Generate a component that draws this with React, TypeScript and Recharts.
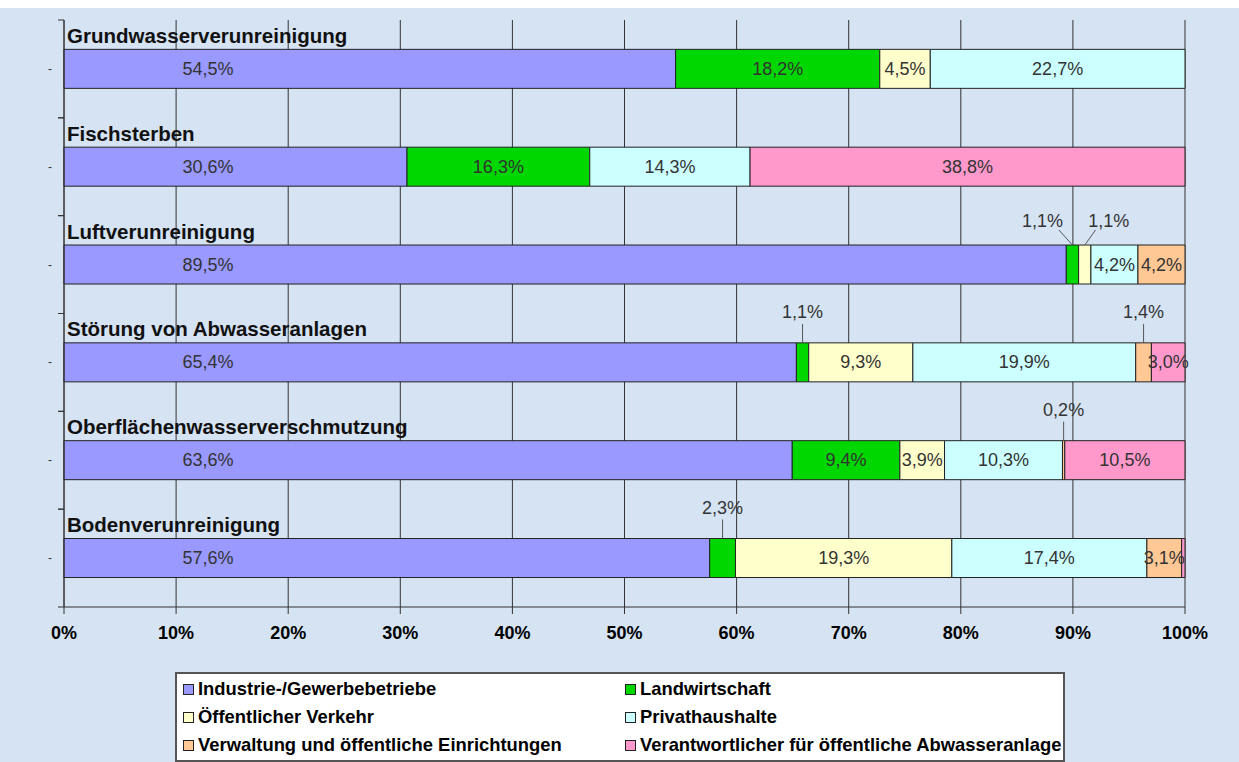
import { BarChart, Bar, XAxis, YAxis, CartesianGrid, LabelList } from 'recharts'

const CATEGORIES = [
  'Grundwasserverunreinigung',
  'Fischsterben',
  'Luftverunreinigung',
  'Störung von Abwasseranlagen',
  'Oberflächenwasserverschmutzung',
  'Bodenverunreinigung',
]

// shares in percent, one entry per category
const INDUSTRIE = [54.5, 30.6, 89.5, 65.4, 63.6, 57.6]
const LANDWIRTSCHAFT = [18.2, 16.3, 1.1, 1.1, 9.4, 2.3]
const VERKEHR = [4.5, 0, 1.1, 9.3, 3.9, 19.3]
const PRIVAT = [22.7, 14.3, 4.2, 19.9, 10.3, 17.4]
const VERWALTUNG = [0, 0, 4.2, 1.4, 0.2, 3.1]
const ABWASSER = [0, 38.8, 0, 3.0, 10.5, 0.3]

// [row, series] pairs whose value label is not printed
const HIDDEN_LABELS = [[5, 5]]

const X_TICKS = [0, 0.1, 0.2, 0.3, 0.4, 0.5, 0.6, 0.7, 0.8, 0.9, 1]

const SERIES = [
  { key: 'industrie', name: 'Industrie-/Gewerbebetriebe', color: '#9999ff', values: INDUSTRIE },
  { key: 'landwirtschaft', name: 'Landwirtschaft', color: '#00d600', values: LANDWIRTSCHAFT },
  { key: 'verkehr', name: 'Öffentlicher Verkehr', color: '#ffffcc', values: VERKEHR },
  { key: 'privat', name: 'Privathaushalte', color: '#ccffff', values: PRIVAT },
  { key: 'verwaltung', name: 'Verwaltung und öffentliche Einrichtungen', color: '#ffc894', values: VERWALTUNG },
  { key: 'abwasser', name: 'Verantwortlicher für öffentliche Abwasseranlage', color: '#ff99cc', values: ABWASSER },
]

const data = CATEGORIES.map((name, i) => {
  const row: Record<string, string | number> = { name }
  SERIES.forEach((s) => { row[s.key] = s.values[i] })
  return row
})

const FONT = 'Arial, "Liberation Sans", sans-serif'
const W = 1239
const H = 754
const MARGIN = { top: 12, right: 54, left: 0, bottom: 115 }
const X_AXIS_H = 40
const BAND = (H - MARGIN.top - MARGIN.bottom - X_AXIS_H) / CATEGORIES.length
// the first series' labels sit at a fixed distance from the bar start
const FIRST_LABEL_OFFSET = 144

const fmt = (v: number) => v.toFixed(1).replace('.', ',') + '%'
const isSmall = (v: number) => v > 0 && v < 2.5

function CategoryTick(props: any) {
  const { y, payload } = props
  return (
    <g>
      <line x1={58} x2={64} y1={y - BAND / 2} y2={y - BAND / 2} stroke="#333" />
      <line x1={58} x2={64} y1={y + BAND / 2} y2={y + BAND / 2} stroke="#333" />
      <text x={48} y={y} dominantBaseline="central" fontSize={12} fill="#333">-</text>
      <text x={67} y={y - 26} fontSize={20.5} fontWeight="bold" fill="#111" fontFamily={FONT}>
        {payload.value}
      </text>
    </g>
  )
}

function segmentLabel(seriesIdx: number) {
  return (props: any) => {
    const v = Number(props.value)
    if (!v) return null
    const vb = props.viewBox ?? props
    const x = Number(props.x ?? vb.x)
    const y = Number(props.y ?? vb.y)
    const w = Number(props.width ?? vb.width)
    const h = Number(props.height ?? vb.height)
    const row = Math.floor((y - MARGIN.top) / BAND)
    if (HIDDEN_LABELS.some(([r, s]) => r === row && s === seriesIdx)) return null
    const cx = x + w / 2
    if (isSmall(v)) {
      const prev = seriesIdx > 0 ? SERIES[seriesIdx - 1].values[row] : 0
      const next = seriesIdx < SERIES.length - 1 ? SERIES[seriesIdx + 1].values[row] : 0
      let dx = 0
      if (isSmall(prev)) dx = 24
      else if (isSmall(next)) dx = -30
      const ly = dx === 0 ? y - 31 : y - 24
      return (
        <g>
          <line x1={cx + dx * 0.45} y1={dx === 0 ? y - 19 : y - 15} x2={cx} y2={y} stroke="#555" />
          <text x={cx + dx} y={ly} textAnchor="middle" dominantBaseline="central"
            fontSize={18} fill="#333" fontFamily={FONT}>{fmt(v)}</text>
        </g>
      )
    }
    const lx = seriesIdx === 0 ? x + FIRST_LABEL_OFFSET : cx
    return (
      <text x={lx} y={y + h / 2} textAnchor="middle" dominantBaseline="central"
        fontSize={18} fill="#333" fontFamily={FONT}>{fmt(v)}</text>
    )
  }
}

function LegendBox() {
  return (
    <div style={{
      position: 'absolute', left: 175, top: 664, width: 886, height: 86,
      background: '#fff', border: '2px solid #555', fontFamily: FONT,
      fontWeight: 'bold', fontSize: 18.4, color: '#000',
    }}>
      {SERIES.map((s, i) => (
        <div key={s.key} style={{
          position: 'absolute', left: i % 2 === 0 ? 6 : 448, top: 4 + Math.floor(i / 2) * 28,
          display: 'flex', alignItems: 'center', whiteSpace: 'nowrap', height: 22,
        }}>
          <span style={{
            display: 'inline-block', width: 9, height: 9, background: s.color,
            border: '1px solid #222', marginRight: 4,
          }} />
          {s.name}
        </div>
      ))}
    </div>
  )
}

export default function App() {
  return (
    <div style={{ position: 'absolute', left: 0, top: 8, width: W, height: H, background: '#d5e3f3', fontFamily: FONT }}>
      <BarChart width={W} height={H} data={data} layout="vertical" stackOffset="expand"
        margin={MARGIN} barCategoryGap="30%">
        <CartesianGrid horizontal={false} vertical stroke="#333" />
        <XAxis type="number" domain={[0, 1]} ticks={X_TICKS} height={X_AXIS_H}
          tickFormatter={(v: number) => `${Math.round(v * 100)}%`}
          tick={{ fontSize: 18, fontWeight: 'bold', fill: '#000', fontFamily: FONT }}
          stroke="#333" tickSize={7} tickMargin={12} />
        <YAxis type="category" dataKey="name" width={64} stroke="#333"
          tickLine={false} tick={<CategoryTick />} interval={0} />
        {SERIES.map((s, i) => (
          <Bar key={s.key} dataKey={s.key} name={s.name} stackId="a" fill={s.color}
            stroke="#222" strokeWidth={1} isAnimationActive={false}>
            <LabelList dataKey={s.key} content={segmentLabel(i)} />
          </Bar>
        ))}
      </BarChart>
      <LegendBox />
    </div>
  )
}
